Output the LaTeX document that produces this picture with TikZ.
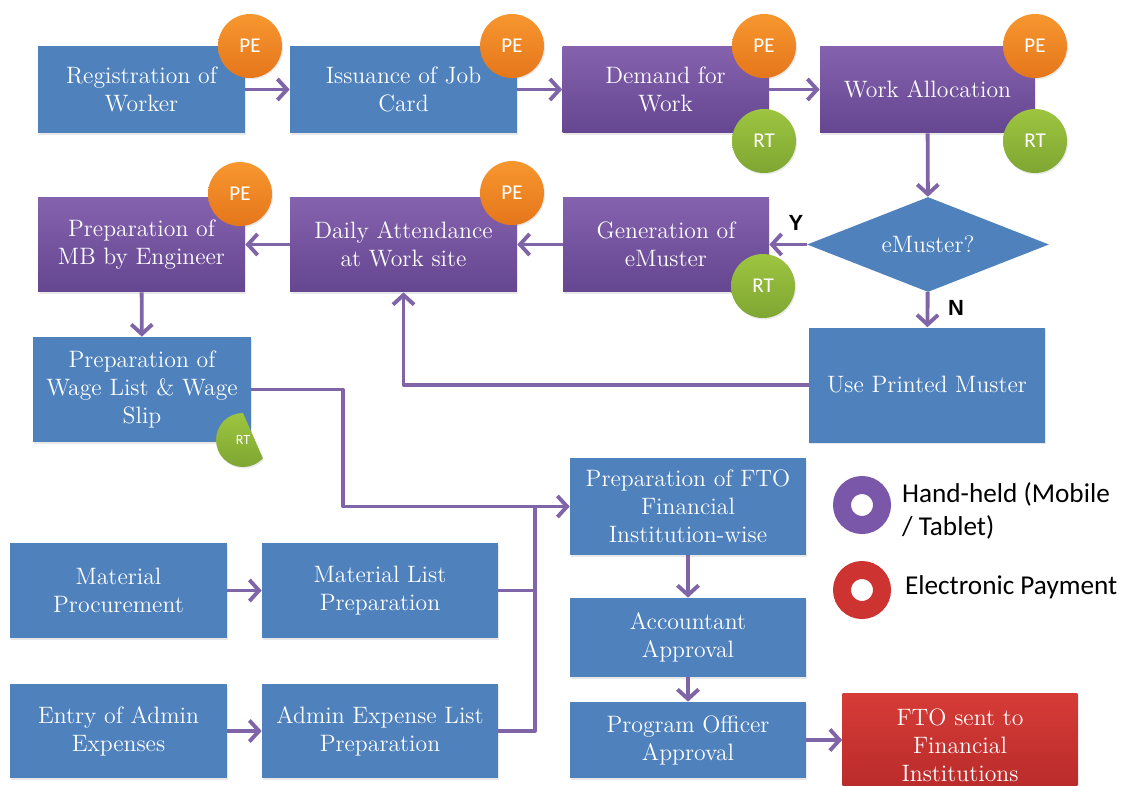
\documentclass[tikz,border=0pt]{standalone}
\usepackage{fontspec}
\usetikzlibrary{shapes.geometric,arrows.meta,shadows}
\newfontfamily\badgefont{Carlito}
\newfontfamily\ynfont{Liberation Sans}
\definecolor{boxblue}{HTML}{4F81BD}
\definecolor{purptop}{HTML}{8562AE}
\definecolor{purpbot}{HTML}{654690}
\definecolor{redtop}{HTML}{D63B37}
\definecolor{redbot}{HTML}{B62A29}
\definecolor{petop}{HTML}{F7972F}
\definecolor{pebot}{HTML}{E5761B}
\definecolor{rttop}{HTML}{9DC540}
\definecolor{rtbot}{HTML}{7FA632}
\definecolor{lnk}{HTML}{8064A8}
\definecolor{purpring}{HTML}{7B57AA}
\definecolor{redring}{HTML}{CC3331}

\begin{document}
\begin{tikzpicture}[x=0.02cm, y=-0.02cm,
  box/.style = {rectangle, fill=boxblue, text=white, align=center, inner sep=2pt, font=\fontsize{13.5}{16}\selectfont, drop shadow={opacity=0.18, shadow xshift=0.7pt, shadow yshift=-0.9pt}},
  hand/.style = {box, top color=purptop, bottom color=purpbot},
  pay/.style = {box, top color=redtop, bottom color=redbot},
  ask/.style = {diamond, aspect=2.6, fill=boxblue, text=white, inner sep=0pt, minimum width=4.84cm, minimum height=1.9cm, font=\fontsize{13.5}{16}\selectfont},
  pe/.style = {circle, minimum size=1.28cm, inner sep=0pt, top color=petop, bottom color=pebot, text=white, font=\badgefont\fontsize{12}{12}\selectfont, drop shadow={opacity=0.18, shadow xshift=0.6pt, shadow yshift=-0.8pt}},
  rt/.style = {pe, top color=rttop, bottom color=rtbot},
  ring/.style = {circle, line width=0.36cm, minimum size=0.8cm, inner sep=0pt},
  legend/.style = {anchor=west, align=left, inner sep=1pt, font=\badgefont\fontsize{15.5}{18.7}\selectfont},
  yn/.style = {font=\ynfont\bfseries\fontsize{12.5}{12.5}\selectfont},
  link/.style = {draw=lnk, line width=2.2pt, line join=round, -{Straight Barb[length=5.5pt,width=12pt]}},
  merge/.style = {draw=lnk, line width=2.2pt, line join=round}]
\useasboundingbox (0,0) rectangle (1131,785);
\clip (0,0) rectangle (1131,785);

\node[box, minimum width=4.14cm, minimum height=1.74cm] (1) at (141.5,89.5) {Registration of\\ Worker};
\node[box, minimum width=4.54cm, minimum height=1.74cm] (2) at (403.5,89.5) {Issuance of Job\\ Card};
\node[hand, minimum width=4.12cm, minimum height=1.74cm] (3) at (665.5,89.5) {Demand for\\ Work};
\node[hand, minimum width=4.30cm, minimum height=1.74cm] (4) at (927.5,89.5) {Work Allocation};
\node[ask] (5) at (928,244.5) {eMuster?};
\node[hand, minimum width=4.12cm, minimum height=1.9cm] (6) at (666,244.5) {Generation of\\ eMuster};
\node[hand, minimum width=4.54cm, minimum height=1.9cm] (7) at (403.5,244.5) {Daily Attendance\\ at Work site};
\node[hand, minimum width=4.14cm, minimum height=1.9cm] (8) at (141.5,244.5) {Preparation of\\ MB by Engineer};
\node[box, minimum width=4.72cm, minimum height=2.3cm] (9) at (927,385) {Use Printed Muster};
\node[box, minimum width=4.36cm, minimum height=2.1cm] (10) at (142,389.5) {Preparation of\\ Wage List \& Wage\\ Slip};
\node[box, minimum width=4.34cm, minimum height=1.9cm] (11) at (118.5,590.5) {Material\\ Procurement};
\node[box, minimum width=4.72cm, minimum height=1.9cm] (12) at (380,590.5) {Material List\\ Preparation};
\node[box, minimum width=4.34cm, minimum height=1.88cm] (13) at (118.5,731) {Entry of Admin\\ Expenses};
\node[box, minimum width=4.72cm, minimum height=1.88cm] (14) at (380,731) {Admin Expense List\\ Preparation};
\node[box, minimum width=4.72cm, minimum height=1.94cm] (15) at (688,506.5) {Preparation of FTO\\ Financial\\ Institution-wise};
\node[box, minimum width=4.72cm, minimum height=1.58cm] (16) at (688,637.5) {Accountant\\ Approval};
\node[box, minimum width=4.72cm, minimum height=1.52cm] (17) at (688,740) {Program Officer\\ Approval};
\node[pay, minimum width=4.70cm, minimum height=2.08cm] (18) at (960,745) {FTO sent to\\ Financial\\ Institutions};

\coordinate (j1) at (343,450);
\coordinate (j2) at (535,506.5);

\draw[link] (1) -- (2);
\draw[link] (2) -- (3);
\draw[link] (3) -- (4);
\draw[link] (4) -- (5);
\draw[link] (5) -- (6);
\draw[link] (6) -- (7);
\draw[link] (7) -- (8);
\draw[link] (5) -- (9);
\draw[link] (9.west) -| (7.south);
\draw[link] (8) -- (10);
\draw[link] (10.east) -| (j1) |- (15.west);
\draw[merge] (12.east) -| (j2);
\draw[merge] (14.east) -| (j2);
\draw[link] (11) -- (12);
\draw[link] (13) -- (14);
\draw[link] (15) -- (16);
\draw[link] (16) -- (17);
\draw[link] (17.east) -- (17.east -| 18.west);

\node[yn] (y) at (796,223) {Y};
\node[yn] (n) at (956,308) {N};

\node[pe] (pe1) at (250,46) {PE};
\node[pe] (pe2) at (512,46) {PE};
\node[pe] (pe3) at (764,46) {PE};
\node[rt] (rt3) at (764,141) {RT};
\node[pe] (pe4) at (1035,46) {PE};
\node[rt] (rt4) at (1035,141) {RT};
\node[rt] (rt6) at (763,286) {RT};
\node[pe] (pe7) at (512,193) {PE};
\node[pe] (pe8) at (240,194) {PE};
\begin{scope}
\clip (221,363) -- (276,488) -- (150,488) -- (150,363) -- cycle;
\node[rt, minimum size=1.08cm, font=\badgefont\fontsize{8}{8}\selectfont] (rt10) at (243,440) {RT};
\end{scope}

\node[ring, draw=purpring] (ring1) at (862,505) {};
\node[legend] (hand) at (900,511) {Hand-held (Mobile\\ / Tablet)};
\node[ring, draw=redring] (ring2) at (862,590) {};
\node[legend] (elec) at (903,587) {Electronic Payment};
\end{tikzpicture}
\end{document}
